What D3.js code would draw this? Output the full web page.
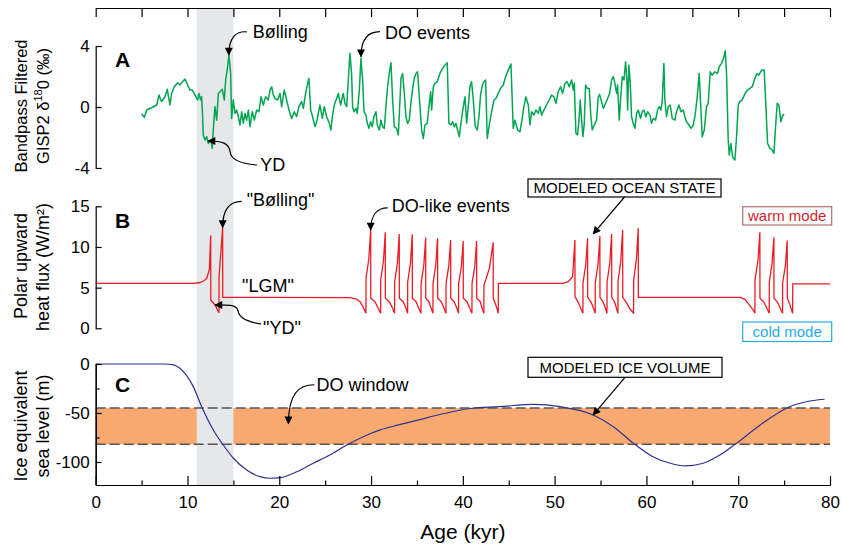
<!DOCTYPE html>
<html>
<head>
<meta charset="utf-8">
<script src="https://cdn.jsdelivr.net/npm/d3@7"></script>
<style>
  body { margin: 0; background: #fff; }
  text { font-family: "Liberation Sans", Arial, Helvetica, sans-serif; }
</style>
</head>
<body>
<svg id="chart" width="842" height="550"></svg>
<script>
// ---- data ----
var ageTicks = [0, 10, 20, 30, 40, 50, 60, 70, 80];
var ageMinorTicks = [5, 15, 25, 35, 45, 55, 65, 75];
var ageAllTicks = [0, 5, 10, 15, 20, 25, 30, 35, 40, 45, 50, 55, 60, 65, 70, 75, 80];
var d18OTicks = [-4, 0, 4];
var fluxTicks = [0, 5, 10, 15];
var seaTicks = [-100, -50, 0];
var seaMinorTicks = [-75, -25];

var grayBand = [11, 15];          // kyr
var doWindow = [-82, -45];        // m

// A: bandpass filtered GISP2 d18O  [age kyr, permil]
var gisp2 = [
  [5.01,-0.46],[5.30,-0.68],[5.55,-0.20],[6.10,-0.05],[6.64,0.13],[6.89,0.78],[7.18,0.35],[7.55,0.67],
  [7.80,1.16],[8.09,0.13],[8.27,0.89],[8.56,1.33],[8.93,1.59],[9.18,1.44],[9.44,1.66],[9.73,1.83],
  [10.02,1.44],[10.27,1.11],[10.53,1.11],[10.82,0.78],[11.11,0.46],[11.25,0.89],[11.43,0.46],[11.54,0.67],
  [11.65,-0.64],[11.72,-1.84],[11.91,-2.17],[12.09,-1.95],[12.27,-2.39],[12.56,-2.17],[12.70,-2.71],[12.81,-1.51],
  [12.99,0.02],[13.18,-0.86],[13.36,0.89],[13.54,1.00],[13.79,1.16],[14.01,0.46],[14.16,1.77],[14.37,2.64],
  [14.52,3.41],[14.70,2.20],[14.81,-0.75],[14.99,0.46],[15.17,-0.42],[15.35,-0.20],[15.54,-0.64],[15.72,-1.18],
  [15.90,-0.31],[16.08,-1.07],[16.26,-0.42],[16.44,-0.86],[16.63,-0.20],[16.81,-1.29],[17.06,-0.31],[17.28,-0.86],
  [17.53,-0.20],[17.79,-0.31],[18.01,0.67],[18.26,0.13],[18.51,0.67],[18.80,0.46],[18.99,1.11],[19.17,1.33],
  [19.35,0.78],[19.53,0.56],[19.82,0.46],[20.08,0.89],[20.26,0.02],[20.55,1.11],[20.80,0.46],[21.06,-0.20],
  [21.35,-0.75],[21.64,-0.31],[21.89,-0.64],[22.14,0.02],[22.44,0.35],[22.62,-0.09],[22.87,0.89],[23.09,1.55],
  [23.23,1.88],[23.42,-0.20],[23.63,-0.64],[23.89,-1.29],[24.07,-0.97],[24.25,-0.42],[24.43,0.13],[24.69,-0.75],
  [24.90,0.02],[25.16,-0.64],[25.45,-1.07],[25.63,-1.51],[25.78,-0.64],[25.99,0.13],[26.25,0.56],[26.43,0.89],
  [26.68,0.13],[26.97,0.89],[27.16,0.24],[27.34,0.02],[27.52,1.77],[27.70,3.52],[27.88,2.20],[27.99,0.02],
  [28.14,-0.31],[28.35,-0.09],[28.50,-0.42],[28.72,1.11],[28.90,3.19],[29.08,1.77],[29.23,-0.31],[29.44,-0.53],
  [29.59,-1.07],[29.77,-1.40],[29.95,-0.97],[30.13,-1.29],[30.31,-0.64],[30.53,-0.31],[30.68,-1.18],[30.90,-1.51],
  [31.08,-0.86],[31.26,-1.29],[31.44,-1.40],[31.62,0.02],[31.80,1.33],[31.98,2.20],[32.17,2.90],[32.35,0.46],
  [32.53,-1.29],[32.78,-1.40],[32.97,-1.84],[33.15,0.46],[33.26,1.88],[33.44,2.20],[33.62,0.89],[33.80,-0.64],
  [33.98,-1.07],[34.16,-0.86],[34.34,0.24],[34.53,1.22],[34.71,1.88],[34.89,2.20],[35.07,2.31],[35.33,0.02],
  [35.51,-1.51],[35.69,-2.06],[35.87,-1.18],[36.12,-1.07],[36.31,0.02],[36.49,1.00],[36.60,-0.20],[36.78,1.33],
  [36.96,1.55],[37.21,1.66],[37.50,2.20],[37.79,2.53],[38.05,2.75],[38.30,2.90],[38.48,-1.07],[38.70,-1.18],
  [38.88,-0.97],[39.07,-1.29],[39.25,-1.07],[39.43,-1.51],[39.61,-1.95],[39.79,-1.07],[40.05,0.02],[40.23,0.67],
  [40.41,-1.07],[40.59,0.02],[40.77,1.33],[40.95,1.66],[41.14,0.46],[41.35,-1.29],[41.57,-1.51],[41.75,-0.64],
  [41.93,0.78],[42.12,1.44],[42.30,1.66],[42.48,1.77],[42.66,-2.06],[42.88,-1.18],[43.13,-0.31],[43.39,0.46],
  [43.60,0.56],[43.86,0.89],[44.11,1.22],[44.40,1.44],[44.66,1.99],[44.95,2.42],[45.24,2.82],[45.49,-1.40],
  [45.67,-0.86],[45.96,-1.51],[46.22,-1.62],[46.44,-0.86],[46.65,0.02],[46.87,0.67],[47.13,0.13],[47.31,-1.18],
  [47.49,-0.31],[47.74,-0.53],[47.96,-0.20],[48.22,-0.42],[48.40,0.02],[48.58,-0.53],[48.83,-0.20],[49.12,0.13],
  [49.41,0.46],[49.67,0.78],[49.92,0.67],[50.14,0.24],[50.39,1.00],[50.65,1.33],[50.87,0.89],[51.12,1.55],
  [51.37,1.66],[51.59,1.33],[51.85,1.77],[52.03,1.11],[52.14,1.55],[52.32,-1.73],[52.50,-1.84],[52.65,-0.86],
  [52.79,0.46],[52.94,-0.86],[53.08,-1.95],[53.23,-1.07],[53.37,1.44],[53.55,1.22],[53.77,1.22],[53.95,-0.64],
  [54.10,-1.51],[54.32,-1.18],[54.57,-0.86],[54.75,0.67],[54.90,0.83],[55.11,0.35],[55.30,-0.09],[55.55,0.24],
  [55.77,0.56],[55.99,0.89],[56.20,1.77],[56.39,1.99],[56.57,1.55],[56.75,0.89],[56.86,1.44],[57.04,-0.86],
  [57.18,0.46],[57.37,1.99],[57.55,1.77],[57.73,2.97],[57.87,1.77],[57.95,-0.20],[58.09,2.75],[58.24,1.55],
  [58.38,-0.64],[58.56,-1.07],[58.75,-1.40],[58.93,-0.42],[59.11,-0.20],[59.36,-0.75],[59.54,-0.31],[59.73,-0.20],
  [59.94,-0.64],[60.13,-0.31],[60.38,-0.53],[60.56,-1.07],[60.74,-0.75],[61.00,-0.86],[61.21,-0.20],[61.40,0.02],
  [61.58,-0.20],[61.72,0.35],[61.90,2.86],[62.01,0.46],[62.19,-0.64],[62.38,0.02],[62.59,0.13],[62.81,-0.75],
  [63.10,-0.86],[63.28,-0.31],[63.54,0.13],[63.76,-0.31],[64.01,-0.20],[64.19,-0.64],[64.37,-0.97],[64.63,-1.18],
  [64.85,-1.40],[65.10,-1.18],[65.28,-0.64],[65.50,0.46],[65.75,2.20],[65.90,0.24],[66.08,-1.95],[66.30,-1.51],
  [66.55,0.02],[66.73,0.24],[66.95,2.31],[67.17,2.09],[67.46,2.31],[67.75,2.20],[67.93,2.64],[68.19,2.86],
  [68.40,3.19],[68.59,3.69],[68.73,2.20],[68.91,-2.17],[69.02,-3.15],[69.20,-2.39],[69.38,-3.26],[69.64,-3.48],
  [69.82,-1.95],[70.00,0.13],[70.18,0.35],[70.44,0.46],[70.73,0.89],[71.02,1.11],[71.27,1.22],[71.53,1.33],
  [71.82,1.88],[72.04,2.20],[72.25,2.09],[72.54,2.42],[72.83,2.42],[73.02,0.02],[73.20,-2.39],[73.45,-2.71],
  [73.71,-2.82],[73.89,-3.04],[74.07,-1.29],[74.25,0.24],[74.43,0.13],[74.65,-0.97],[74.79,-0.64],[74.98,-0.46]
];

// B: modeled polar upward heat flux  [age kyr, W/m2]
var heatFlux = [
  [0,5.53],[10.5,5.53],[11.3,5.6],[11.8,5.85],[12.1,6.15],[12.38,7.2],[12.53,11.4],[12.54,3.48],[13.0,2.87],[13.43,1.92],
  [13.44,6.35],[13.83,12.4],[13.84,3.81],[27.7,3.77],[28.4,3.6],[28.79,3.27],[29.15,2.58],[29.44,1.85],
  [29.45,6.15],[29.75,8.5],[29.96,12.09],[29.97,3.69],[30.42,3.27],[30.78,2.46],[31.04,1.85],
  [31.05,5.94],[31.35,8.3],[31.55,11.8],[31.56,3.69],[31.99,3.27],[32.35,2.46],[32.56,1.85],
  [32.57,5.7],[32.87,8.0],[33.07,11.6],[33.08,3.69],[33.5,3.27],[33.8,2.46],[33.98,1.85],
  [33.99,5.7],[34.29,8.0],[34.49,11.55],[34.5,3.69],[34.9,3.27],[35.2,2.46],[35.44,1.85],
  [35.45,5.5],[35.75,7.8],[35.95,11.15],[35.96,3.69],[36.3,3.27],[36.55,2.46],[36.74,1.85],
  [36.75,5.5],[37.05,7.8],[37.25,11.07],[37.26,3.69],[37.65,3.27],[37.95,2.46],[38.16,1.85],
  [38.17,5.5],[38.47,7.7],[38.67,10.86],[38.68,3.69],[39.05,3.27],[39.35,2.46],[39.53,1.85],
  [39.54,5.5],[39.84,7.6],[40.04,10.74],[40.05,3.69],[40.45,3.27],[40.75,2.46],[40.99,1.85],
  [41.0,5.5],[41.3,7.6],[41.5,10.74],[41.51,3.69],[41.9,3.27],[42.1,2.46],[42.29,1.85],
  [42.3,5.3],[42.9,7.4],[43.3,10.58],[43.31,3.69],[43.55,3.0],[43.75,2.3],[43.86,1.85],[43.87,5.53],
  [50.9,5.53],[51.48,5.73],[51.96,6.35],[52.21,10.86],[52.22,3.9],[52.6,3.1],[52.9,2.3],[53.08,1.85],
  [53.09,5.6],[53.39,7.8],[53.59,11.07],[53.6,3.8],[53.98,3.2],[54.25,2.4],[54.42,1.85],
  [54.43,5.6],[54.73,7.9],[54.93,11.35],[54.94,3.8],[55.3,3.2],[55.55,2.4],[55.7,1.85],
  [55.71,5.7],[56.01,8.0],[56.21,11.6],[56.22,3.8],[56.55,3.2],[56.75,2.4],[56.9,1.85],
  [56.91,5.8],[57.21,8.3],[57.41,12.1],[57.42,3.8],[57.8,3.2],[58.2,2.4],[58.6,1.85],
  [58.61,5.9],[58.91,8.5],[59.11,12.3],[59.12,3.81],[70.19,3.81],[70.7,3.6],[71.09,3.07],[71.64,2.25],[71.82,1.85],
  [71.83,6.0],[72.16,8.4],[72.36,11.8],[72.37,3.7],[72.8,3.2],[73.15,2.4],[73.38,1.85],
  [73.39,5.7],[73.69,8.0],[73.89,11.2],[73.9,3.7],[74.3,3.2],[74.6,2.4],[74.83,1.85],
  [74.84,5.6],[75.14,7.7],[75.34,10.8],[75.35,3.7],[75.6,3.0],[75.8,2.3],[75.93,1.85],[75.94,5.45],[80,5.45]
];

// C: modeled ice-equivalent sea level
var seaAge   = [0, 7.5, 8.5, 9.18, 10.63, 11.55, 12.81, 13.9, 15.0, 16.45, 17.9, 19.0, 20.1, 21.9, 23.7, 25.5,
                27.35, 29.15, 31.0, 33.0, 35.3, 38.0, 40.8, 44.0, 47.7, 50.6, 54.2, 56.4, 58.6, 60.7, 62.6,
                64.2, 66.2, 68.0, 69.8, 72.4, 75.6, 77.4, 79.4];
var seaLevel = [0, 0, -0.8, -4.4, -23.1, -43.6, -67.3, -82.7, -96.2, -108.2, -115, -116.6, -116, -110, -101.3, -92.9,
                -82.7, -74.2, -67.3, -62.2, -56.7, -50.5, -45.4, -43.5, -41.3, -43.6, -52, -64, -81, -94.6, -101.3,
                -104, -101.3, -92.9, -81, -62.2, -43.6, -38.5, -36];

// ---- layout ----
var font = '"Liberation Sans", Arial, Helvetica, sans-serif';
var svg = d3.select("#chart");

var x = d3.scaleLinear().domain([0, 80]).range([95.7, 830]);
var yA = d3.scaleLinear().domain([-4, 4]).range([168, 46]);
var yB = d3.scaleLinear().domain([0, 15]).range([328.3, 206.3]);
var yC = d3.scaleLinear().domain([-123.5, 0]).range([485, 364]);
var topY = 8;

var defs = svg.append("defs");
defs.append("marker")
    .attr("id", "ah")
    .attr("viewBox", "0 0 10 10")
    .attr("refX", 9).attr("refY", 5)
    .attr("markerWidth", 9).attr("markerHeight", 8)
    .attr("markerUnits", "userSpaceOnUse")
    .attr("orient", "auto")
  .append("path")
    .attr("d", "M0,0 L10,5 L0,10 z")
    .attr("fill", "#000");

// DO window band
svg.append("rect")
    .attr("x", x(0))
    .attr("width", x(80) - x(0))
    .attr("y", yC(doWindow[1]))
    .attr("height", yC(doWindow[0]) - yC(doWindow[1]))
    .attr("fill", "#f8a970");

// gray band
svg.append("rect")
    .attr("x", x(grayBand[0]))
    .attr("width", x(grayBand[1]) - x(grayBand[0]))
    .attr("y", topY)
    .attr("height", yC(-123.5) - topY)
    .attr("fill", "#e6e7e8");

// dashed limits
svg.selectAll(".dolim")
    .data(doWindow)
  .enter().append("line")
    .attr("class", "dolim")
    .attr("x1", x(0)).attr("x2", x(80))
    .attr("y1", function(d) { return yC(d); })
    .attr("y2", function(d) { return yC(d); })
    .attr("stroke", "#555")
    .attr("stroke-width", 1.5)
    .attr("stroke-dasharray", "10,4");

// curves
svg.append("path")
    .datum(gisp2)
    .attr("fill", "none")
    .attr("stroke", "#00a651")
    .attr("stroke-width", 1.5)
    .attr("stroke-linejoin", "round")
    .attr("d", d3.line().x(function(d) { return x(d[0]); }).y(function(d) { return yA(d[1]); }));

svg.append("path")
    .datum(heatFlux)
    .attr("fill", "none")
    .attr("stroke", "#ed1c24")
    .attr("stroke-width", 1.3)
    .attr("d", d3.line().x(function(d) { return x(d[0]); }).y(function(d) { return yB(d[1]); }));

svg.append("path")
    .datum(d3.zip(seaAge, seaLevel))
    .attr("fill", "none")
    .attr("stroke", "#2e3192")
    .attr("stroke-width", 1.2)
    .attr("d", d3.line().curve(d3.curveMonotoneX)
        .x(function(d) { return x(d[0]); }).y(function(d) { return yC(d[1]); }));

// ---- axes ----
function styleAxis(g) {
  g.attr("font-size", 17).attr("font-family", font);
  g.selectAll("path, line").attr("stroke", "#000").attr("stroke-width", 1.2);
  g.selectAll("text").attr("fill", "#000");
}
var fmt = function(d) { return String(d); };

svg.append("g")
    .attr("transform", "translate(0," + topY + ")")
    .call(d3.axisBottom(x).tickValues(ageAllTicks).tickSize(9).tickSizeOuter(0).tickFormat(""))
    .call(styleAxis);

svg.append("g")
    .attr("transform", "translate(0," + yC(-123.5) + ")")
    .call(d3.axisBottom(x).tickValues(ageTicks).tickSize(-9).tickSizeOuter(0).tickPadding(11).tickFormat(fmt))
    .call(styleAxis);
svg.append("g")
    .attr("transform", "translate(0," + yC(-123.5) + ")")
    .call(d3.axisBottom(x).tickValues(ageMinorTicks).tickSize(-4.5).tickSizeOuter(0).tickFormat(""))
    .call(styleAxis);

svg.append("g")
    .attr("transform", "translate(" + x(0) + ",0)")
    .call(d3.axisLeft(yA).tickValues(d18OTicks).tickSize(-6).tickSizeOuter(0).tickPadding(6).tickFormat(fmt))
    .call(styleAxis);
svg.append("g")
    .attr("transform", "translate(" + x(0) + ",0)")
    .call(d3.axisLeft(yB).tickValues(fluxTicks).tickSize(-6).tickSizeOuter(0).tickPadding(6).tickFormat(fmt))
    .call(styleAxis);
svg.append("g")
    .attr("transform", "translate(" + x(0) + ",0)")
    .call(d3.axisLeft(yC).tickValues(seaTicks).tickSize(-6).tickSizeOuter(0).tickPadding(6).tickFormat(fmt))
    .call(styleAxis);
svg.append("g")
    .attr("transform", "translate(" + x(0) + ",0)")
    .call(d3.axisLeft(yC).tickValues(seaMinorTicks).tickSize(-4).tickSizeOuter(0).tickFormat(""))
    .call(styleAxis);

// axis titles
svg.append("text")
    .attr("x", (x(0) + x(80)) / 2).attr("y", 539)
    .attr("text-anchor", "middle").attr("font-size", 21)
    .text("Age (kyr)");

function yTitle(cx, cy, size, build) {
  var t = svg.append("text")
      .attr("transform", "translate(" + cx + "," + cy + ") rotate(-90)")
      .attr("text-anchor", "middle")
      .attr("font-size", size);
  build(t);
}
yTitle(27, 106, 16.5, function(t) { t.text("Bandpass Filtered"); });
yTitle(49, 106, 16.5, function(t) {
  t.append("tspan").text("GISP2 \u03b4");
  t.append("tspan").attr("font-size", 11).attr("dy", -7).text("18");
  t.append("tspan").attr("dy", 7).text("0 (\u2030)");
});
yTitle(27, 266, 18, function(t) { t.text("Polar upward"); });
yTitle(49, 267, 18, function(t) { t.text("heat flux (W/m\u00b2)"); });
yTitle(27, 426, 18, function(t) { t.text("Ice equivalent"); });
yTitle(49, 426, 18, function(t) { t.text("sea level (m)"); });

// panel letters
[["A", yA(2.6)], ["B", yB(12.3)], ["C", yC(-28.5)]].forEach(function(p) {
  svg.append("text")
      .attr("x", 115).attr("y", p[1])
      .attr("font-size", 21).attr("font-weight", "bold")
      .text(p[0]);
});

// ---- annotations ----
function label(tx, ty, str, size, color) {
  return svg.append("text")
      .attr("x", tx).attr("y", ty)
      .attr("font-size", size || 18)
      .attr("fill", color || "#000")
      .text(str);
}
function arrow(d) {
  svg.append("path")
      .attr("d", d)
      .attr("fill", "none")
      .attr("stroke", "#000")
      .attr("stroke-width", 1.2)
      .attr("marker-end", "url(#ah)");
}
function box(x0, y0, w, h, str, stroke, color, size) {
  svg.append("rect")
      .attr("x", x0).attr("y", y0).attr("width", w).attr("height", h)
      .attr("fill", "#fff").attr("stroke", stroke).attr("stroke-width", 1.2);
  svg.append("text")
      .attr("x", x0 + w / 2).attr("y", y0 + h / 2)
      .attr("dy", "0.36em")
      .attr("text-anchor", "middle")
      .attr("font-size", size)
      .attr("fill", color)
      .text(str);
}

var tx, ty;
// A: Bølling
tx = x(14.5); ty = yA(3.42);
label(tx + 24, ty - 17, "B\u00f8lling");
arrow("M" + (tx + 18) + "," + (ty - 23) + " C" + (tx + 7) + "," + (ty - 24) + " " + tx + "," + (ty - 17) + " " + tx + "," + ty);
// A: DO events
tx = x(28.9); ty = yA(3.3);
label(tx + 24, ty - 18, "DO events");
arrow("M" + (tx + 19) + "," + (ty - 25) + " C" + (tx + 8) + "," + (ty - 25) + " " + tx + "," + (ty - 18) + " " + tx + "," + ty);
// A: YD
tx = x(12.25); ty = yA(-2.23);
label(tx + 52, ty + 30, "YD");
arrow("M" + (tx + 49) + "," + (ty + 24) + " C" + (tx + 35) + "," + (ty + 23) + " " + (tx + 23) + "," + (ty + 20) + " " + (tx + 22) + "," + (ty + 11) +
      " C" + (tx + 21) + "," + (ty + 2) + " " + (tx + 14) + "," + ty + " " + tx + "," + ty);

// B: "Bølling"
tx = x(13.83); ty = yB(12.4);
label(tx + 24, ty - 21, "\"B\u00f8lling\"");
arrow("M" + (tx + 19) + "," + (ty - 26) + " C" + (tx + 8) + "," + (ty - 26) + " " + tx + "," + (ty - 19) + " " + tx + "," + ty);
// B: "LGM"
label(242, yB(3.81) - 5, "\"LGM\"");
// B: "YD"
tx = x(13.0); ty = yB(2.87);
label(tx + 48, ty + 29, "\"YD\"");
arrow("M" + (tx + 46) + "," + (ty + 19) + " C" + (tx + 32) + "," + (ty + 17) + " " + (tx + 24) + "," + (ty + 13) + " " + (tx + 23) + "," + (ty + 6) +
      " C" + (tx + 22) + "," + ty + " " + (tx + 15) + "," + ty + " " + tx + "," + ty);
// B: DO-like events
tx = x(29.96); ty = yB(12.09);
label(tx + 21, ty - 18, "DO-like events");
arrow("M" + (tx + 17) + "," + (ty - 22) + " C" + (tx + 6) + "," + (ty - 22) + " " + tx + "," + (ty - 14) + " " + tx + "," + ty);
// B: modeled ocean state
box(528, 179, 193, 18, "MODELED OCEAN STATE", "#000", "#000", 15);
tx = x(54.2); ty = yB(11.6);
arrow("M624.5,197 L" + tx + "," + ty);
box(742.7, 206.7, 89, 18.3, "warm mode", "#b0706a", "#d7262e", 15);
box(742.7, 322, 89, 19.5, "cold mode", "#29abe2", "#29abe2", 15);

// C: DO window
tx = x(21.0); ty = yC(-61);
label(tx + 28, ty - 33, "DO window");
arrow("M" + (tx + 26) + "," + (ty - 39) + " C" + (tx + 10) + "," + (ty - 39) + " " + tx + "," + (ty - 30) + " " + tx + "," + ty);
// C: modeled ice volume
box(528, 357.3, 194, 20, "MODELED ICE VOLUME", "#000", "#000", 15);
tx = x(54.2); ty = yC(-52);
arrow("M625,377.3 L" + tx + "," + ty);
</script>
</body>
</html>
